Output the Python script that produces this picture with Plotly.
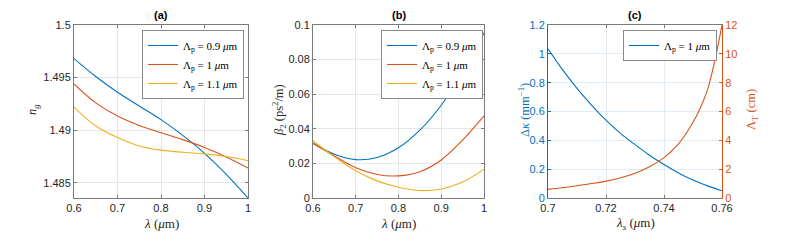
import plotly.graph_objects as go

# ---------------- data ----------------
lam_a = [0.60, 0.65, 0.70, 0.75, 0.80, 0.85, 0.90, 0.95, 1.00]
ng_09 = [1.4968, 1.4951, 1.4936, 1.4923, 1.4910, 1.4895, 1.4878, 1.4858, 1.48355]
ng_10 = [1.4944, 1.4926, 1.49135, 1.49045, 1.48975, 1.4891, 1.48835, 1.48745, 1.4864]
ng_11 = [1.4922, 1.4904, 1.4893, 1.4885, 1.4881, 1.4879, 1.48775, 1.4875, 1.4871]

lam_b = [0.60, 0.65, 0.70, 0.75, 0.80, 0.85, 0.90, 0.95, 1.00]
b2_09 = [0.0316, 0.0253, 0.0222, 0.0234, 0.0290, 0.0392, 0.0536, 0.0725, 0.0955]
b2_10 = [0.0316, 0.0243, 0.0175, 0.0136, 0.0128, 0.0152, 0.0220, 0.0335, 0.0475]
b2_11 = [0.0331, 0.0238, 0.0157, 0.0099, 0.0062, 0.0043, 0.0052, 0.0092, 0.0167]

lam_c_dk = [0.700, 0.705, 0.710, 0.715, 0.720, 0.725, 0.730, 0.735, 0.740, 0.745, 0.750, 0.755, 0.760]
dkappa = [1.035, 0.89, 0.76, 0.645, 0.54, 0.448, 0.37, 0.297, 0.232, 0.174, 0.124, 0.084, 0.05]
lam_c_lt = [0.700, 0.705, 0.710, 0.715, 0.720, 0.725, 0.730, 0.735, 0.740, 0.745, 0.750, 0.7525, 0.755, 0.7575, 0.760]
lambda_T = [0.60, 0.71, 0.85, 1.00, 1.17, 1.40, 1.72, 2.17, 2.80, 3.75, 5.25, 6.25, 7.50, 9.50, 12.0]

legend_ab = ["Λ<sub>p</sub> = 0.9 <i>μ</i>m", "Λ<sub>p</sub> = 1 <i>μ</i>m", "Λ<sub>p</sub> = 1.1 <i>μ</i>m"]
legend_c = "Λ<sub>p</sub> = 1 <i>μ</i>m"

xt_ab = [0.6, 0.7, 0.8, 0.9, 1.0]
xt_ab_txt = ["0.6", "0.7", "0.8", "0.9", "1"]
yt_a = [1.485, 1.49, 1.495, 1.5]
yt_a_txt = ["1.485", "1.49", "1.495", "1.5"]
yt_b = [0, 0.02, 0.04, 0.06, 0.08, 0.1]
yt_b_txt = ["0", "0.02", "0.04", "0.06", "0.08", "0.1"]
xt_c = [0.70, 0.72, 0.74, 0.76]
xt_c_txt = ["0.7", "0.72", "0.74", "0.76"]
yt_cl = [0, 0.2, 0.4, 0.6, 0.8, 1.0, 1.2]
yt_cl_txt = ["0", "0.2", "0.4", "0.6", "0.8", "1", "1.2"]
yt_cr = [0, 2, 4, 6, 8, 10, 12]
yt_cr_txt = ["0", "2", "4", "6", "8", "10", "12"]

# ---------------- style ----------------
W, H = 790, 248
BLUE, ORANGE, YELLOW = "#0072BD", "#D95319", "#EDB120"
colors = [BLUE, ORANGE, YELLOW]
TICKF = dict(family="Liberation Sans, Arial, sans-serif", size=11, color="#262626")
SERIF = "Liberation Serif, DejaVu Serif, serif"
FRAME = "#7a7a7a"
GRID = "#e6e6e6"

def px(x):
    return x / W

def py(y):
    return 1 - y / H

ydom = [py(198), py(25)]
xd_a = [px(74), px(248)]
xd_b = [px(313), px(484)]
xd_c = [px(548), px(722)]

fig = go.Figure()

for vals, name, col in zip([ng_09, ng_10, ng_11], legend_ab, colors):
    fig.add_trace(go.Scatter(x=lam_a, y=vals, name=name, mode="lines",
                             line=dict(color=col, width=1.1, shape="spline"),
                             xaxis="x", yaxis="y", legend="legend"))
for vals, name, col in zip([b2_09, b2_10, b2_11], legend_ab, colors):
    fig.add_trace(go.Scatter(x=lam_b, y=vals, name=name, mode="lines",
                             line=dict(color=col, width=1.1, shape="spline"),
                             xaxis="x2", yaxis="y2", legend="legend2"))
fig.add_trace(go.Scatter(x=lam_c_dk, y=dkappa, name=legend_c, mode="lines",
                         line=dict(color=BLUE, width=1.1, shape="spline"),
                         xaxis="x3", yaxis="y3", legend="legend3"))
fig.add_trace(go.Scatter(x=lam_c_lt, y=lambda_T, name="LT", mode="lines",
                         line=dict(color=ORANGE, width=1.1, shape="spline"),
                         xaxis="x3", yaxis="y4", showlegend=False))

common = dict(showline=True, linecolor=FRAME, linewidth=1, mirror="ticks",
              ticks="inside", ticklen=3, tickcolor=FRAME, showgrid=True,
              gridcolor=GRID, gridwidth=1, zeroline=False, tickfont=TICKF,
              automargin=False)

fig.update_layout(
    width=W, height=H,
    margin=dict(l=0, r=0, t=0, b=0, pad=0, autoexpand=False),
    paper_bgcolor="white", plot_bgcolor="white",
    xaxis=dict(domain=xd_a, range=[0.6, 1.0], anchor="y", tickvals=xt_ab, ticktext=xt_ab_txt, **common),
    yaxis=dict(domain=ydom, range=[1.48355, 1.5], anchor="x", tickvals=yt_a, ticktext=yt_a_txt, **common),
    xaxis2=dict(domain=xd_b, range=[0.6, 1.0], anchor="y2", tickvals=xt_ab, ticktext=xt_ab_txt, **common),
    yaxis2=dict(domain=ydom, range=[0, 0.1], anchor="x2", tickvals=yt_b, ticktext=yt_b_txt, **common),
    xaxis3=dict(domain=xd_c, range=[0.7, 0.76], anchor="y3", tickvals=xt_c, ticktext=xt_c_txt,
                **{**common, "gridcolor": "#e4ecf2"}),
    yaxis3=dict(domain=ydom, range=[0, 1.2], anchor="x3", tickvals=yt_cl, ticktext=yt_cl_txt,
                **{**common, "mirror": False, "linecolor": BLUE, "tickcolor": BLUE,
                   "gridcolor": "#dfecf6", "tickfont": dict(TICKF, color=BLUE)}),
    yaxis4=dict(domain=ydom, range=[0, 12], anchor="x3", overlaying="y3", side="right",
                tickvals=yt_cr, ticktext=yt_cr_txt,
                **{**common, "mirror": False, "showgrid": False, "linecolor": ORANGE,
                   "tickcolor": ORANGE, "tickfont": dict(TICKF, color=ORANGE)}),
    showlegend=True,
)

leg_common = dict(bgcolor="white", bordercolor="#8a8a8a", borderwidth=1,
                  font=dict(family=SERIF, size=11, color="#000000"),
                  xanchor="right", yanchor="top", tracegroupgap=0,
                  itemwidth=30)
fig.update_layout(
    legend=dict(x=px(244), y=py(30), **leg_common),
    legend2=dict(x=px(483), y=py(30), **leg_common),
    legend3=dict(x=px(717), y=py(30), **leg_common),
)

ann = []
for txt, xc in [("(a)", 161), ("(b)", 398.5), ("(c)", 635)]:
    ann.append(dict(text="<b>%s</b>" % txt, x=px(xc), y=py(15), xref="paper", yref="paper",
                    xanchor="center", yanchor="middle", showarrow=False,
                    font=dict(family="Liberation Sans, Arial", size=11, color="#000")))
xlab = "<i>λ</i> (<i>μ</i>m)"
for txt, xc in [(xlab, 161), (xlab, 398.5), ("<i>λ</i><sub><i>s</i></sub> (<i>μ</i>m)", 635)]:
    ann.append(dict(text=txt, x=px(xc), y=py(223), xref="paper", yref="paper",
                    xanchor="center", yanchor="middle", showarrow=False,
                    font=dict(family=SERIF, size=13, color="#262626")))
for txt, xc, col in [("<i>n</i><sub><i>g</i></sub>", 33, "#262626"),
                     ("<i>β</i><sub>2</sub> (ps<sup>2</sup>/m)", 279, "#262626"),
                     ("Δ<i>κ</i> (mm<sup>−1</sup>)", 524, BLUE),
                     ("Λ<sub>T</sub> (cm)", 752, ORANGE)]:
    ann.append(dict(text=txt, x=px(xc), y=py(110), xref="paper", yref="paper",
                    xanchor="center", yanchor="middle", showarrow=False, textangle=-90,
                    font=dict(family=SERIF, size=12.5, color=col)))
fig.update_layout(annotations=ann)

fig.write_html("out.html", config={"displayModeBar": False},
               post_script="document.body.style.margin='0';document.body.style.overflow='hidden';")
